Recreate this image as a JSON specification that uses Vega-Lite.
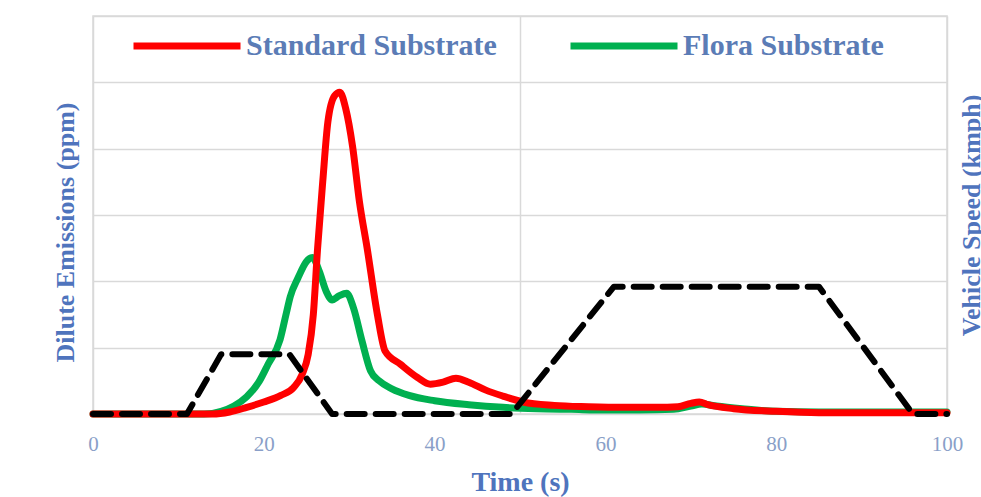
{
  "$schema": "https://vega.github.io/schema/vega-lite/v6.json",
  "autosize": "none",
  "width": 854,
  "height": 398,
  "padding": {"left": 93, "top": 16, "right": 40, "bottom": 83},
  "background": "white",
  "config": {
    "view": {"stroke": "#d9d9d9", "strokeWidth": 1.5},
    "axis": {"gridColor": "#d9d9d9", "gridWidth": 1.5}
  },
  "datasets": {
    "emis": [
      {"series": "Standard Substrate", "t": 0, "v": 0},
      {"series": "Standard Substrate", "t": 5, "v": 0},
      {"series": "Standard Substrate", "t": 10, "v": 0},
      {"series": "Standard Substrate", "t": 14, "v": 0},
      {"series": "Standard Substrate", "t": 16, "v": 3},
      {"series": "Standard Substrate", "t": 18, "v": 10},
      {"series": "Standard Substrate", "t": 20, "v": 18},
      {"series": "Standard Substrate", "t": 22, "v": 28},
      {"series": "Standard Substrate", "t": 23.5, "v": 40},
      {"series": "Standard Substrate", "t": 24.5, "v": 60},
      {"series": "Standard Substrate", "t": 25.2, "v": 90},
      {"series": "Standard Substrate", "t": 25.8, "v": 150},
      {"series": "Standard Substrate", "t": 26.3, "v": 250},
      {"series": "Standard Substrate", "t": 26.9, "v": 350},
      {"series": "Standard Substrate", "t": 27.5, "v": 440},
      {"series": "Standard Substrate", "t": 28.3, "v": 480},
      {"series": "Standard Substrate", "t": 28.9, "v": 485},
      {"series": "Standard Substrate", "t": 29.6, "v": 460},
      {"series": "Standard Substrate", "t": 30.4, "v": 403},
      {"series": "Standard Substrate", "t": 31.2, "v": 320},
      {"series": "Standard Substrate", "t": 32.1, "v": 250},
      {"series": "Standard Substrate", "t": 33.3, "v": 150},
      {"series": "Standard Substrate", "t": 34.2, "v": 95},
      {"series": "Standard Substrate", "t": 36, "v": 75},
      {"series": "Standard Substrate", "t": 38, "v": 55},
      {"series": "Standard Substrate", "t": 39.5, "v": 45},
      {"series": "Standard Substrate", "t": 41, "v": 48},
      {"series": "Standard Substrate", "t": 42.5, "v": 54},
      {"series": "Standard Substrate", "t": 44, "v": 48},
      {"series": "Standard Substrate", "t": 46, "v": 36},
      {"series": "Standard Substrate", "t": 48, "v": 27},
      {"series": "Standard Substrate", "t": 50.4, "v": 18},
      {"series": "Standard Substrate", "t": 54, "v": 13},
      {"series": "Standard Substrate", "t": 58, "v": 11},
      {"series": "Standard Substrate", "t": 62, "v": 10},
      {"series": "Standard Substrate", "t": 66, "v": 10},
      {"series": "Standard Substrate", "t": 68.5, "v": 11},
      {"series": "Standard Substrate", "t": 70, "v": 16},
      {"series": "Standard Substrate", "t": 71, "v": 18},
      {"series": "Standard Substrate", "t": 72, "v": 14},
      {"series": "Standard Substrate", "t": 75, "v": 8},
      {"series": "Standard Substrate", "t": 80, "v": 4},
      {"series": "Standard Substrate", "t": 85, "v": 2},
      {"series": "Standard Substrate", "t": 90, "v": 2},
      {"series": "Standard Substrate", "t": 100, "v": 2},
      {"series": "Flora Substrate", "t": 0, "v": 0},
      {"series": "Flora Substrate", "t": 5, "v": 0},
      {"series": "Flora Substrate", "t": 10, "v": 0},
      {"series": "Flora Substrate", "t": 13, "v": 0},
      {"series": "Flora Substrate", "t": 15, "v": 4},
      {"series": "Flora Substrate", "t": 16.5, "v": 12},
      {"series": "Flora Substrate", "t": 18, "v": 26},
      {"series": "Flora Substrate", "t": 19.5, "v": 50},
      {"series": "Flora Substrate", "t": 20.5, "v": 75},
      {"series": "Flora Substrate", "t": 21.9, "v": 112},
      {"series": "Flora Substrate", "t": 22.6, "v": 150},
      {"series": "Flora Substrate", "t": 23.1, "v": 177},
      {"series": "Flora Substrate", "t": 24, "v": 205},
      {"series": "Flora Substrate", "t": 25, "v": 230},
      {"series": "Flora Substrate", "t": 25.7, "v": 236},
      {"series": "Flora Substrate", "t": 26.5, "v": 215},
      {"series": "Flora Substrate", "t": 27.3, "v": 185},
      {"series": "Flora Substrate", "t": 28, "v": 172},
      {"series": "Flora Substrate", "t": 28.8, "v": 178},
      {"series": "Flora Substrate", "t": 29.7, "v": 182},
      {"series": "Flora Substrate", "t": 30.5, "v": 160},
      {"series": "Flora Substrate", "t": 31.5, "v": 110},
      {"series": "Flora Substrate", "t": 32.5, "v": 65},
      {"series": "Flora Substrate", "t": 33.5, "v": 50},
      {"series": "Flora Substrate", "t": 35, "v": 38},
      {"series": "Flora Substrate", "t": 37, "v": 28},
      {"series": "Flora Substrate", "t": 40, "v": 20},
      {"series": "Flora Substrate", "t": 44, "v": 14},
      {"series": "Flora Substrate", "t": 48, "v": 10},
      {"series": "Flora Substrate", "t": 52, "v": 8},
      {"series": "Flora Substrate", "t": 56, "v": 7},
      {"series": "Flora Substrate", "t": 60, "v": 6},
      {"series": "Flora Substrate", "t": 64, "v": 6},
      {"series": "Flora Substrate", "t": 68, "v": 7},
      {"series": "Flora Substrate", "t": 70, "v": 12},
      {"series": "Flora Substrate", "t": 71.3, "v": 15},
      {"series": "Flora Substrate", "t": 73, "v": 12},
      {"series": "Flora Substrate", "t": 76, "v": 8},
      {"series": "Flora Substrate", "t": 80, "v": 4},
      {"series": "Flora Substrate", "t": 85, "v": 3},
      {"series": "Flora Substrate", "t": 90, "v": 3},
      {"series": "Flora Substrate", "t": 95, "v": 3},
      {"series": "Flora Substrate", "t": 100, "v": 3}
    ],
    "speed": [
      {"t": 0, "speed": 0},
      {"t": 11, "speed": 0},
      {"t": 15, "speed": 15},
      {"t": 23, "speed": 15},
      {"t": 28, "speed": 0},
      {"t": 49, "speed": 0},
      {"t": 61, "speed": 32},
      {"t": 85, "speed": 32},
      {"t": 96, "speed": 0},
      {"t": 100, "speed": 0}
    ]
  },
  "layer": [
    {
      "data": {"name": "emis"},
      "encoding": {
        "x": {
          "field": "t", "type": "quantitative",
          "scale": {"domain": [0, 100], "nice": false, "zero": false},
          "axis": {
            "orient": "bottom", "values": [0, 20, 40, 50, 60, 80, 100], "grid": true,
            "gridOpacity": {"condition": {"test": "datum.value % 50 === 0", "value": 1}, "value": 0},
            "labelExpr": "datum.value === 50 ? '' : datum.label",
            "ticks": false, "domain": false,
            "labelFlush": false, "labelFont": "Liberation Serif", "labelFontSize": 21, "labelColor": "#8a9fc8", "labelPadding": 19,
            "title": "Time (s)", "titleFont": "Liberation Serif", "titleFontSize": 28, "titleFontWeight": "bold",
            "titleColor": "#4f74bd", "titlePadding": 14
          }
        },
        "y": {
          "field": "v", "type": "quantitative",
          "scale": {"domain": [0, 600], "nice": false},
          "axis": {
            "orient": "left", "values": [0, 100, 200, 300, 400, 500, 600], "grid": true, "labels": false, "ticks": false, "domain": false,
            "title": "Dilute Emissions (ppm)", "titleFont": "Liberation Serif", "titleFontSize": 26, "titleFontWeight": "bold",
            "titleColor": "#4f74bd", "titlePadding": 15, "titleY": 216
          }
        },
        "color": {
          "field": "series", "type": "nominal",
          "scale": {"domain": ["Standard Substrate", "Flora Substrate"], "range": ["#ff0000", "#00b050"]},
          "legend": {
            "title": null, "orient": "none", "legendX": 37, "legendY": -27, "direction": "horizontal",
            "symbolType": "stroke", "symbolSize": 11449, "symbolStrokeWidth": 7,
            "labelFont": "Liberation Serif", "labelFontSize": 30, "labelFontWeight": "bold", "labelColor": "#5b7cb6",
            "labelOffset": 2, "columnPadding": 59, "labelLimit": 400
          }
        }
      },
      "layer": [
        {
          "transform": [{"filter": "datum.series === 'Flora Substrate'"}],
          "mark": {"type": "line", "interpolate": "monotone", "strokeWidth": 7, "strokeCap": "round", "strokeJoin": "round"}
        },
        {
          "transform": [{"filter": "datum.series === 'Standard Substrate'"}],
          "mark": {"type": "line", "interpolate": "monotone", "strokeWidth": 7, "strokeCap": "round", "strokeJoin": "round"}
        }
      ]
    },
    {
      "data": {"name": "speed"},
      "mark": {"type": "line", "color": "#000000", "strokeWidth": 6, "strokeDash": [18, 11], "strokeCap": "round", "strokeJoin": "round"},
      "encoding": {
        "x": {"field": "t", "type": "quantitative"},
        "y": {
          "field": "speed", "type": "quantitative",
          "scale": {"domain": [0, 100], "nice": false},
          "axis": {
            "orient": "right", "grid": false, "labels": false, "ticks": false, "domain": false,
            "title": "Vehicle Speed (kmph)", "titleFont": "Liberation Serif", "titleFontSize": 26, "titleFontWeight": "bold",
            "titleColor": "#4f74bd", "titleAngle": 270, "titlePadding": 37
          }
        }
      }
    }
  ],
  "resolve": {"scale": {"y": "independent"}}
}
